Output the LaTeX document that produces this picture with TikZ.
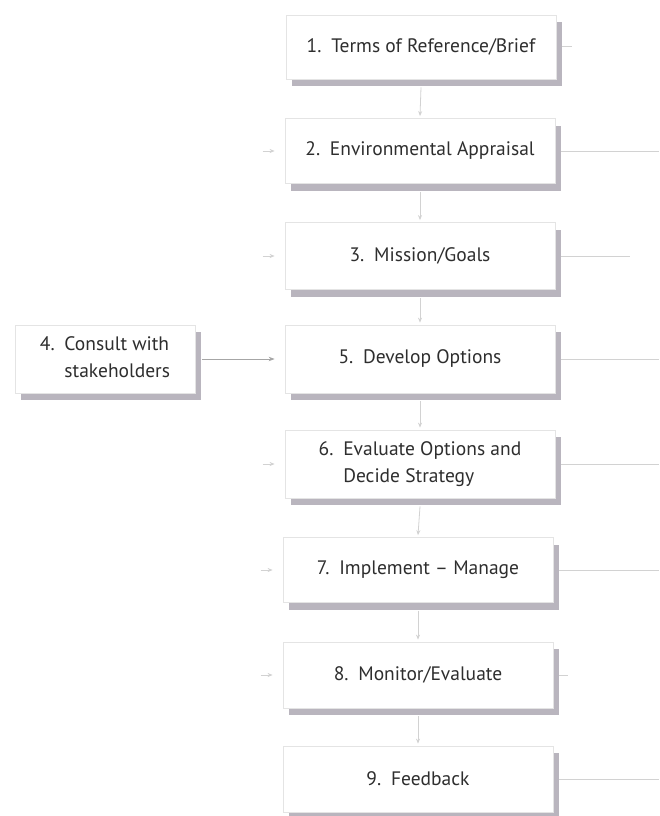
\documentclass[tikz,border=0pt]{standalone}
\usepackage{fontspec}
\setmainfont{PT Sans}
\usetikzlibrary{shadows,arrows.meta}
\definecolor{txt}{HTML}{2E2E2E}
\definecolor{shd}{HTML}{B9B5BE}
\definecolor{brd}{HTML}{E4E4E4}
\definecolor{ln}{HTML}{D2D2D2}
\begin{document}
\begin{tikzpicture}[x=1pt,y=-1pt,
  box/.style={draw=brd, fill=white, line width=0.8pt, text=txt,
    minimum width=270pt, minimum height=65pt, inner sep=0pt,
    font=\fontsize{19.5}{27}\selectfont, align=center,
    drop shadow={shadow xshift=6pt, shadow yshift=-7pt, fill=shd, opacity=1}},
  dn/.style={draw=ln, line width=0.8pt, -{Stealth[length=5pt,width=4pt]}},
  lt/.style={draw=ln, line width=0.8pt, -{Stealth[length=5pt,width=4pt]}},
  rl/.style={draw=ln, line width=1pt},
  ar/.style={draw=gray!70, line width=0.8pt, -{Stealth[length=6pt,width=4.5pt]}}]
\useasboundingbox (0,0) rectangle (659,816);
\fill[white] (0,0) rectangle (659,816);

% right-hand line ends
\coordinate (r1) at (572,47);
\coordinate (r2) at (659,151);
\coordinate (r3) at (630,256);
\coordinate (r5) at (659,359);
\coordinate (r6) at (659,464);
\coordinate (r7) at (659,570);
\coordinate (r8) at (568,675);
\coordinate (r9) at (659,779);

\node[box, minimum height=64pt] (b1) at (421,47) {1.\enspace Terms of Reference/Brief};
\node[box] (b2) at (420,151) {2.\enspace Environmental Appraisal};
\node[box, minimum height=67pt] (b3) at (420,256) {3.\enspace Mission/Goals};
\node[box, minimum height=68pt] (b5) at (420,359) {5.\enspace Develop Options};
\node[box, minimum height=68pt] (b6) at (420,464)
  {\begin{tabular}{@{}l@{\enspace}l@{}}6.&Evaluate Options and\\ &Decide Strategy\end{tabular}};
\node[box] (b7) at (418,570) {7.\enspace Implement -- Manage};
\node[box, minimum height=66pt] (b8) at (418,675) {8.\enspace Monitor/Evaluate};
\node[box, minimum height=66pt] (b9) at (418,779) {9.\enspace Feedback};
\node[box, minimum width=180pt, minimum height=68pt] (b4) at (105,359)
  {\begin{tabular}{@{}l@{\enspace}l@{}}4.&Consult with\\ &stakeholders\end{tabular}};

% downward connectors
\draw[dn] ([yshift=-8pt]b1.south) -- ([yshift=2pt]b2.north);
\draw[dn] ([yshift=-8pt]b2.south) -- ([yshift=2pt]b3.north);
\draw[dn] ([yshift=-8pt]b3.south) -- ([yshift=2pt]b5.north);
\draw[dn] ([yshift=-8pt]b5.south) -- ([yshift=2pt]b6.north);
\draw[dn] ([yshift=-8pt]b6.south) -- ([yshift=2pt]b7.north);
\draw[dn] ([yshift=-8pt]b7.south) -- ([yshift=2pt]b8.north);
\draw[dn] ([yshift=-8pt]b8.south) -- ([yshift=2pt]b9.north);

% consult -> develop
\draw[ar] ([xshift=7pt]b4.east) -- ([xshift=-10pt]b5.west);

% left stubs
\foreach \b in {b2,b3,b6,b7,b8}
  \draw[lt] ([xshift=-22pt]\b.west) -- ([xshift=-10pt]\b.west);

% right lines
\draw[rl] ([xshift=6pt]b1.east) -- (r1);
\draw[rl] ([xshift=6pt]b2.east) -- (r2);
\draw[rl] ([xshift=6pt]b3.east) -- (r3);
\draw[rl] ([xshift=6pt]b5.east) -- (r5);
\draw[rl] ([xshift=6pt]b6.east) -- (r6);
\draw[rl] ([xshift=6pt]b7.east) -- (r7);
\draw[rl] ([xshift=6pt]b8.east) -- (r8);
\draw[rl] ([xshift=6pt]b9.east) -- (r9);
\end{tikzpicture}
\end{document}
